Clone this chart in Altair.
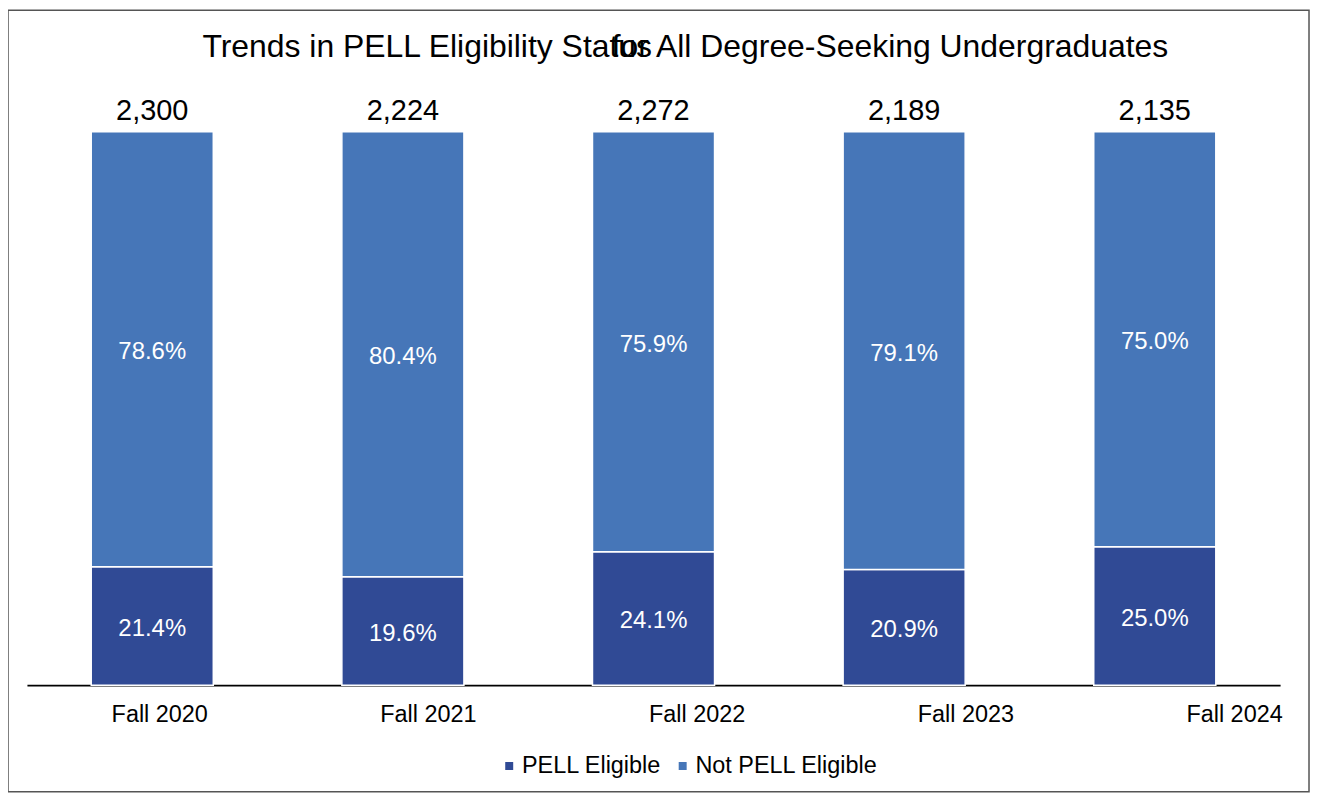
import altair as alt
import pandas as pd

years = ["Fall 2020", "Fall 2021", "Fall 2022", "Fall 2023", "Fall 2024"]
pell_pct = [21.4, 19.6, 24.1, 20.9, 25.0]
not_pell_pct = [78.6, 80.4, 75.9, 79.1, 75.0]
totals = [2300, 2224, 2272, 2189, 2135]
series = ["PELL Eligible", "Not PELL Eligible"]
colors = ["#304A95", "#4676B8"]
title_parts = ["Trends in PELL Eligibility Status", "for All Degree-Seeking Undergraduates"]

FONT = "Liberation Sans"

rows = []
for i, yr in enumerate(years):
    lo = 0.0
    for k, (s, vals) in enumerate(zip(series, [pell_pct, not_pell_pct])):
        v = vals[i]
        rows.append(dict(year=yr, series=s, pct=v, order=k, mid=lo + v / 2, frac=v / 100))
        lo += v
df = pd.DataFrame(rows)
tot = pd.DataFrame(dict(year=years, total=totals, top=[100] * len(years)))
one = pd.DataFrame([{"a": 0}])

x_enc = alt.X(
    "year:N",
    sort=years,
    scale=alt.Scale(paddingInner=0.513, paddingOuter=0.2565),
    axis=alt.Axis(
        title=None, labelAngle=0, ticks=False, grid=False,
        domainColor="black", domainWidth=2,
        labelFont=FONT, labelFontSize=23.5, labelColor="black",
        labelPadding=17,
        labelOffset=alt.ExprRef(expr="7.5 + datum.index * 72.5"),
    ),
)
y_scale = alt.Scale(domain=[0, 100], nice=False)

bars = alt.Chart(df).mark_bar(stroke="white", strokeWidth=1.5).encode(
    x=x_enc,
    y=alt.Y("pct:Q", stack="zero", scale=y_scale, axis=None),
    color=alt.Color(
        "series:N",
        scale=alt.Scale(domain=series, range=colors),
        legend=alt.Legend(
            title=None, orient="none", direction="horizontal",
            legendX=472, legendY=624, padding=0,
            symbolType="square", symbolSize=64, symbolStrokeWidth=0,
            labelFont=FONT, labelFontSize=23.5, labelColor="black",
            labelOffset=1, columnPadding=9, labelLimit=400,
        ),
    ),
    order=alt.Order("order:Q", sort="ascending"),
)

pct_text = alt.Chart(df).mark_text(
    color="white", font=FONT, fontSize=24, baseline="middle", dy=3
).encode(
    x=alt.X("year:N", sort=years),
    y=alt.Y("mid:Q", scale=y_scale, axis=None),
    text=alt.Text("frac:Q", format=".1%"),
)

tot_text = alt.Chart(tot).mark_text(
    color="black", font=FONT, fontSize=29, baseline="alphabetic", dy=-12
).encode(
    x=alt.X("year:N", sort=years),
    y=alt.Y("top:Q", scale=y_scale, axis=None),
    text=alt.Text("total:Q", format=","),
)

title1 = alt.Chart(one).mark_text(
    color="black", font=FONT, fontSize=32, align="left", baseline="middle"
).encode(x=alt.value(176), y=alt.value(-85), text=alt.value(title_parts[0]))

title2 = alt.Chart(one).mark_text(
    color="black", font=FONT, fontSize=32, align="left", baseline="middle"
).encode(x=alt.value(586.5), y=alt.value(-85), text=alt.value(title_parts[1]))

border = alt.Chart(one).mark_rect(filled=False, stroke="#555555", strokeWidth=1.5).encode(
    x=alt.value(-19), x2=alt.value(1286), y=alt.value(-122), y2=alt.value(662)
)

chart = alt.layer(border, bars, pct_text, tot_text, title1, title2).properties(
    width=1257,
    height=555,
    background="white",
    autosize=alt.AutoSizeParams(type="none"),
    padding={"left": 19, "top": 123, "right": 31, "bottom": 109},
).configure_view(stroke=None, strokeWidth=0)

chart.save("out.html", embed_options={"renderer": "svg", "actions": False})
